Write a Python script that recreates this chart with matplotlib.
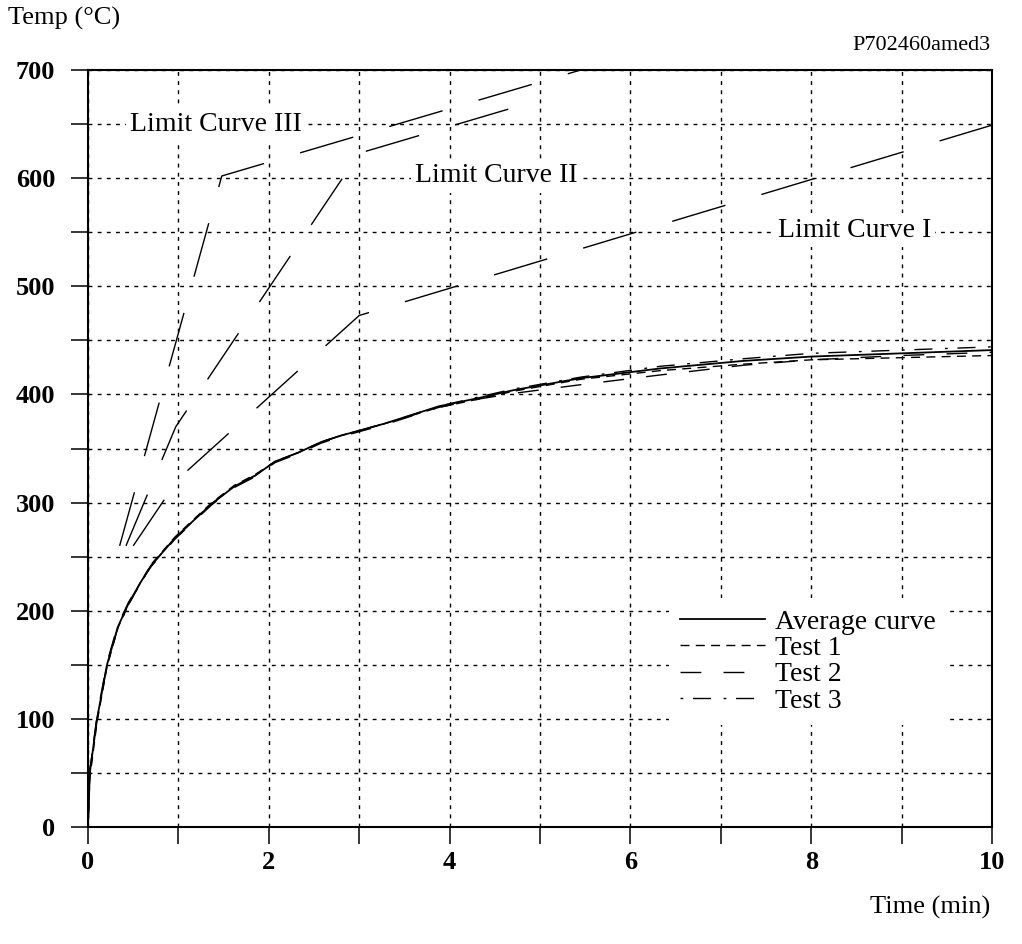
import matplotlib
matplotlib.use("Agg")
import matplotlib.pyplot as plt
from matplotlib.ticker import MultipleLocator

plt.rcParams['font.family'] = ['Liberation Serif', 'DejaVu Serif']
plt.rcParams['lines.scale_dashes'] = False

# Measured furnace curves (time in min, temperature in degC)
time_min = [0, 0.02, 0.1, 0.21, 0.33, 0.45, 0.58, 0.7, 0.96, 1.15, 1.37, 1.62, 1.85,
            2.07, 2.32, 2.58, 2.8, 3.02, 3.28, 3.88, 4.34, 4.71, 5.45, 6.33, 7.25,
            8.0, 9.0, 10.0]
average = [0, 50, 100, 150, 185, 207, 226, 242, 267, 282, 299, 315, 325,
           338, 346, 356, 362, 367, 373, 389, 397, 404, 415, 424, 431,
           435, 438, 441]
test_1 = [0, 45, 97, 148, 184, 206, 226, 243, 268, 283, 300, 316, 326,
          338, 346, 356, 362, 367, 373, 388, 396, 403, 414, 422, 428,
          432, 434, 436]
test_2 = [0, 52, 103, 152, 187, 208, 226, 241, 266, 281, 298, 314, 324,
          337, 345, 355, 361, 366, 372, 388, 396, 401, 409, 418, 427,
          432, 436, 439]
test_3 = [0, 53, 100, 150, 184, 206, 225, 242, 267, 282, 299, 315, 325,
          338, 346, 356, 362, 367, 373, 389, 398, 405, 416, 426, 433,
          438, 441, 444]

# Limit curves (break points)
limit1_t = [0.5, 1.0, 3.0, 10.0]
limit1_T = [260, 322, 473, 649]
limit2_t = [0.42, 0.97, 3.0, 4.9]
limit2_T = [260, 370, 623, 670]
limit3_t = [0.35, 1.48, 5.45]
limit3_T = [260, 602, 700]

W, H = 1022, 944
fig = plt.figure(figsize=(W / 100, H / 100), dpi=100)
ax = fig.add_axes([88 / W, 1 - 827 / H, (992 - 88) / W, (827 - 70) / H])

# grid
ax.set_xlim(0, 10)
ax.set_ylim(0, 700)
ax.xaxis.set_major_locator(MultipleLocator(2))
ax.xaxis.set_minor_locator(MultipleLocator(1))
ax.yaxis.set_major_locator(MultipleLocator(100))
ax.yaxis.set_minor_locator(MultipleLocator(50))
ax.grid(which='both', color='black', linewidth=1.0, linestyle=(0, (2.8, 3.8)), zorder=0)
ax.set_axisbelow(True)

limit_style = dict(color='black', linewidth=1.0, dashes=(40, 27), zorder=2)
ax.plot(limit1_t, limit1_T, **limit_style)
ax.plot(limit2_t, limit2_T, **limit_style)
ax.plot(limit3_t, limit3_T, **limit_style)

ax.plot(time_min, average, color='black', linewidth=1.3, label='Average curve', zorder=3)
ax.plot(time_min, test_1, color='black', linewidth=1.0, dashes=(6.5, 4.5), label='Test 1', zorder=3)
ax.plot(time_min, test_2, color='black', linewidth=1.0, dashes=(15, 16), label='Test 2', zorder=3)
ax.plot(time_min, test_3, color='black', linewidth=1.0, dashes=(2, 7, 13, 9), label='Test 3', zorder=3)

box = dict(boxstyle='square,pad=0.15', facecolor='white', edgecolor='none')
ax.text(0.465, 650, 'Limit Curve III', fontsize=20, va='center', ha='left', bbox=box, zorder=4)
ax.text(3.62, 602, 'Limit Curve II', fontsize=20, va='center', ha='left', bbox=box, zorder=4)
ax.text(7.63, 552, 'Limit Curve I', fontsize=20, va='center', ha='left', bbox=box, zorder=4)

leg = ax.legend(loc='upper left', bbox_to_anchor=(0.643, 0.302), fontsize=20,
                frameon=True, facecolor='white', edgecolor='none', framealpha=1,
                fancybox=False, borderaxespad=0, borderpad=0.4,
                handlelength=3.06, handletextpad=0.36, labelspacing=0.03)
leg.set_zorder(5)

for side in ['left', 'right', 'top', 'bottom']:
    ax.spines[side].set_linewidth(1.5)

ax.tick_params(which='both', direction='out', length=12.5, width=1.1, color='black')
ax.tick_params(axis='y', which='both', pad=11)
ax.tick_params(axis='x', which='both', pad=5)
for lbl in ax.get_xticklabels() + ax.get_yticklabels():
    lbl.set_fontsize(19)
    lbl.set_fontweight('bold')

fig.text(8 / W, 1 - 18 / H, 'Temp (°C)', fontsize=19, ha='left', va='center')
fig.text(990 / W, 1 - 45 / H, 'P702460amed3', fontsize=16, ha='right', va='center')
fig.text(990 / W, 1 - 907 / H, 'Time (min)', fontsize=19, ha='right', va='center')

fig.savefig('out.png', dpi=100)
